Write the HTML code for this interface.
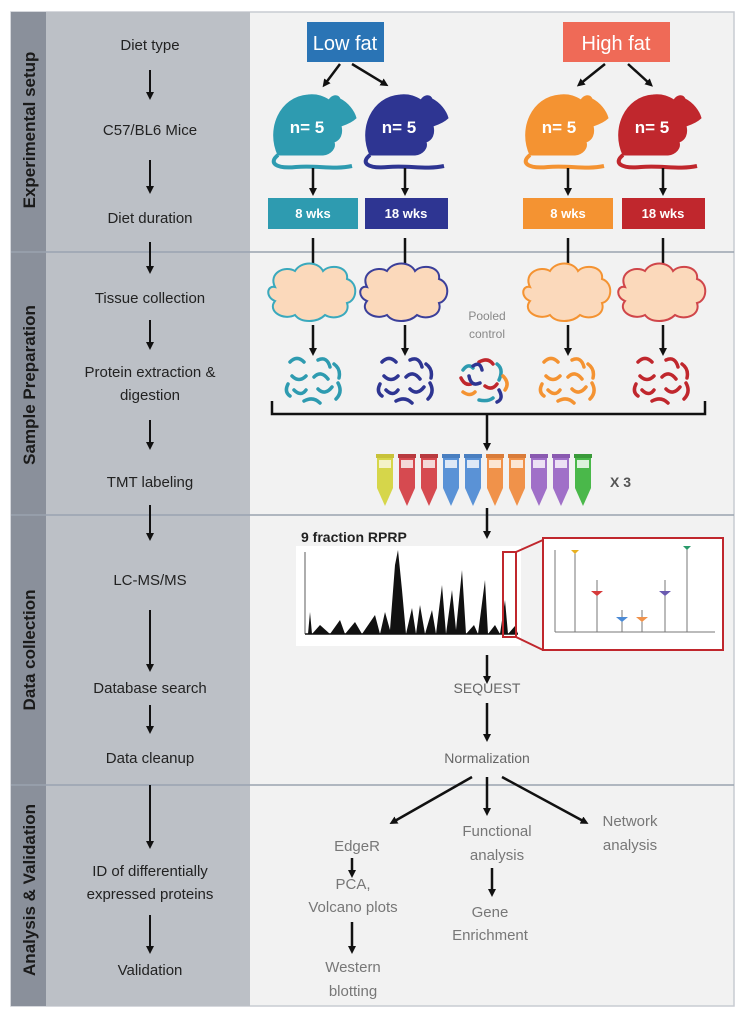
<!DOCTYPE html>
<html><head><style>
body{margin:0;background:#fff;}
svg{display:block;font-family:"Liberation Sans",sans-serif;}
</style></head><body>
<svg width="741" height="1028" viewBox="0 0 741 1028" xmlns="http://www.w3.org/2000/svg">
<defs>
<marker id="ah" markerWidth="8" markerHeight="8" refX="4" refY="4" orient="auto" markerUnits="userSpaceOnUse"><path d="M0,0 L8,4 L0,8 z" fill="#111"/></marker>
<g id="mouse"><path d="M-34,28 C-46,2 -32,-30 -4,-32 C6,-33 12,-30 17,-27 C20,-32 26,-33 28,-28 C36,-24 42,-16 44,-9 C40,-5 35,-3 29,-1 C31,7 28,13 22,15 C24,21 19,27 11,28 Z"/><path d="M-34,28 C-44,36 -36,42 -16,40 C4,38 22,43 40,39" fill="none" stroke-width="4"/></g>
<g id="cloud"><path d="M-38,-8 C-45,-22 -28,-30 -18,-24 C-12,-34 5,-34 10,-24 C18,-32 36,-28 34,-16 C46,-12 44,6 34,8 C38,20 22,26 12,20 C4,28 -12,28 -18,20 C-30,26 -46,16 -38,6 C-48,2 -46,-10 -38,-8 z" fill="#fbd9bb" stroke-width="2"/></g>
<g id="sq" fill="none" stroke-width="3.5" stroke-linecap="round"><path d="M-26,-18 q7,-7 14,0 M2,-20 q9,-4 12,7 M18,-16 q7,5 5,14 M-24,-4 q7,7 14,0 M-2,-3 q7,-7 14,2 M-22,10 q7,7 12,0 M2,9 q7,7 14,-2 M-12,21 q9,-5 16,2 M22,3 q5,9 -2,16 M-28,4 q-4,8 2,12"/></g>
</defs>
<rect x="11" y="12" width="723" height="994" fill="#f2f2f2" stroke="#c8ccd2" stroke-width="1.5"/>
<rect x="11" y="12" width="35" height="994" fill="#8a909b"/>
<rect x="46" y="12" width="204" height="994" fill="#bcc0c6"/>
<g stroke="#9aa3b0" stroke-width="1.5"><line x1="11" y1="252" x2="734" y2="252"/><line x1="11" y1="515" x2="734" y2="515"/><line x1="11" y1="785" x2="734" y2="785"/></g>
<g font-weight="bold" font-size="17" fill="#1a1a1a" text-anchor="middle">
<text transform="translate(35,130) rotate(-90)">Experimental setup</text>
<text transform="translate(35,385) rotate(-90)">Sample Preparation</text>
<text transform="translate(35,650) rotate(-90)">Data collection</text>
<text transform="translate(35,890) rotate(-90)">Analysis &amp; Validation</text>
</g>
<g font-size="15" fill="#222" text-anchor="middle">
<text x="150" y="50">Diet type</text>
<text x="150" y="135">C57/BL6 Mice</text>
<text x="150" y="223">Diet duration</text>
<text x="150" y="303">Tissue collection</text>
<text x="150" y="377">Protein extraction &amp;</text>
<text x="150" y="400">digestion</text>
<text x="150" y="487">TMT labeling</text>
<text x="150" y="585">LC-MS/MS</text>
<text x="150" y="693">Database search</text>
<text x="150" y="763">Data cleanup</text>
<text x="150" y="876">ID of differentially</text>
<text x="150" y="899">expressed proteins</text>
<text x="150" y="975">Validation</text>
</g>
<g stroke="#111" stroke-width="2" marker-end="url(#ah)">
<line x1="150" y1="70" x2="150" y2="96"/><line x1="150" y1="160" x2="150" y2="190"/><line x1="150" y1="242" x2="150" y2="270"/>
<line x1="150" y1="320" x2="150" y2="346"/><line x1="150" y1="420" x2="150" y2="446"/><line x1="150" y1="505" x2="150" y2="537"/>
<line x1="150" y1="610" x2="150" y2="668"/><line x1="150" y1="705" x2="150" y2="730"/><line x1="150" y1="785" x2="150" y2="845"/>
<line x1="150" y1="915" x2="150" y2="950"/>
</g>
<rect x="307" y="22" width="77" height="40" fill="#2a74b5"/><text x="345" y="50" font-size="20" fill="#fff" text-anchor="middle">Low fat</text>
<rect x="563" y="22" width="107" height="40" fill="#ef6a57"/><text x="616" y="50" font-size="20" fill="#fff" text-anchor="middle">High fat</text>
<g stroke="#111" stroke-width="2.5" marker-end="url(#ah)">
<line x1="340" y1="64" x2="325" y2="84"/><line x1="352" y1="64" x2="385" y2="84"/>
<line x1="605" y1="64" x2="580" y2="84"/><line x1="628" y1="64" x2="650" y2="84"/>
</g>
<g fill="#2e9bb0" stroke="#2e9bb0"><use href="#mouse" transform="translate(312,127)"/></g>
<g fill="#2e3592" stroke="#2e3592"><use href="#mouse" transform="translate(404,127)"/></g>
<g fill="#f49332" stroke="#f49332"><use href="#mouse" transform="translate(564,127)"/></g>
<g fill="#c0272d" stroke="#c0272d"><use href="#mouse" transform="translate(657,127)"/></g>
<g font-size="17" font-weight="bold" fill="#fff" text-anchor="middle">
<text x="307" y="133">n= 5</text><text x="399" y="133">n= 5</text><text x="559" y="133">n= 5</text><text x="652" y="133">n= 5</text></g>
<g stroke="#111" stroke-width="2.5" marker-end="url(#ah)">
<line x1="313" y1="168" x2="313" y2="192"/><line x1="405" y1="168" x2="405" y2="192"/><line x1="568" y1="168" x2="568" y2="192"/><line x1="663" y1="168" x2="663" y2="192"/>
</g>
<rect x="268" y="198" width="90" height="31" fill="#2e9bb0"/><rect x="365" y="198" width="83" height="31" fill="#2e3592"/>
<rect x="523" y="198" width="90" height="31" fill="#f49332"/><rect x="622" y="198" width="83" height="31" fill="#c0272d"/>
<g font-size="13" font-weight="bold" fill="#fff" text-anchor="middle"><text x="313" y="218">8 wks</text><text x="406" y="218">18 wks</text><text x="568" y="218">8 wks</text><text x="663" y="218">18 wks</text></g>
<g stroke="#111" stroke-width="2.5" marker-end="url(#ah)">
<line x1="313" y1="238" x2="313" y2="268"/><line x1="405" y1="238" x2="405" y2="268"/><line x1="568" y1="238" x2="568" y2="268"/><line x1="663" y1="238" x2="663" y2="268"/>
</g>
<use href="#cloud" transform="translate(313,295)" stroke="#3aa9bd"/>
<use href="#cloud" transform="translate(405,295)" stroke="#3b3f9a"/>
<use href="#cloud" transform="translate(568,295)" stroke="#f49332"/>
<use href="#cloud" transform="translate(663,295)" stroke="#d0464a"/>
<text x="487" y="320" font-size="12" fill="#888" text-anchor="middle">Pooled</text>
<text x="487" y="338" font-size="12" fill="#888" text-anchor="middle">control</text>
<g stroke="#111" stroke-width="2.5" marker-end="url(#ah)">
<line x1="313" y1="325" x2="313" y2="352"/><line x1="405" y1="325" x2="405" y2="352"/><line x1="568" y1="325" x2="568" y2="352"/><line x1="663" y1="325" x2="663" y2="352"/>
</g>
<use href="#sq" transform="translate(316,380)" stroke="#2e9bb0"/>
<use href="#sq" transform="translate(408,380)" stroke="#2e3592"/>
<g fill="none" stroke-width="3.5" stroke-linecap="round" transform="translate(487,380)"><path stroke="#c0272d" d="M-8,-18 q9,-5 14,2 M-2,6 q7,5 12,-2 M-26,-2 q4,8 10,6"/><path stroke="#2e9bb0" d="M10,-16 q7,5 2,16 M-24,-10 q5,-7 10,-2 M-8,20 q9,2 14,-2"/><path stroke="#2e3592" d="M-18,-4 q2,11 11,7 M12,10 q5,9 -2,12 M-14,-14 q7,-5 9,4"/><path stroke="#f49332" d="M16,-4 q7,7 2,14 M-24,12 q7,5 12,0"/></g>
<use href="#sq" transform="translate(570,380)" stroke="#f49332"/>
<use href="#sq" transform="translate(664,380)" stroke="#c0272d"/>
<path d="M272,401 V414 H705 V401" fill="none" stroke="#111" stroke-width="2.5"/>
<line x1="487" y1="414" x2="487" y2="447" stroke="#111" stroke-width="2.5" marker-end="url(#ah)"/>
<g stroke="none">
<g transform="translate(376,454)"><rect x="0" y="0" width="18" height="4" fill="#c8c23a"/><path d="M1,4 h16 v30 l-8,18 l-8,-18z" fill="#d6d64a"/><rect x="3" y="6" width="12" height="8" fill="#f4f2c8"/></g>
<g transform="translate(398,454)"><rect x="0" y="0" width="18" height="4" fill="#b83a3f"/><path d="M1,4 h16 v30 l-8,18 l-8,-18z" fill="#d64a50"/><rect x="3" y="6" width="12" height="8" fill="#f4d8d8"/></g>
<g transform="translate(420,454)"><rect x="0" y="0" width="18" height="4" fill="#b83a3f"/><path d="M1,4 h16 v30 l-8,18 l-8,-18z" fill="#d64a50"/><rect x="3" y="6" width="12" height="8" fill="#f4d8d8"/></g>
<g transform="translate(442,454)"><rect x="0" y="0" width="18" height="4" fill="#4a7fc0"/><path d="M1,4 h16 v30 l-8,18 l-8,-18z" fill="#5a92d6"/><rect x="3" y="6" width="12" height="8" fill="#dde8f6"/></g>
<g transform="translate(464,454)"><rect x="0" y="0" width="18" height="4" fill="#4a7fc0"/><path d="M1,4 h16 v30 l-8,18 l-8,-18z" fill="#5a92d6"/><rect x="3" y="6" width="12" height="8" fill="#dde8f6"/></g>
<g transform="translate(486,454)"><rect x="0" y="0" width="18" height="4" fill="#d97c3a"/><path d="M1,4 h16 v30 l-8,18 l-8,-18z" fill="#f0924a"/><rect x="3" y="6" width="12" height="8" fill="#fbe6d4"/></g>
<g transform="translate(508,454)"><rect x="0" y="0" width="18" height="4" fill="#d97c3a"/><path d="M1,4 h16 v30 l-8,18 l-8,-18z" fill="#f0924a"/><rect x="3" y="6" width="12" height="8" fill="#fbe6d4"/></g>
<g transform="translate(530,454)"><rect x="0" y="0" width="18" height="4" fill="#8a5ab0"/><path d="M1,4 h16 v30 l-8,18 l-8,-18z" fill="#a070c8"/><rect x="3" y="6" width="12" height="8" fill="#ece0f4"/></g>
<g transform="translate(552,454)"><rect x="0" y="0" width="18" height="4" fill="#8a5ab0"/><path d="M1,4 h16 v30 l-8,18 l-8,-18z" fill="#a070c8"/><rect x="3" y="6" width="12" height="8" fill="#ece0f4"/></g>
<g transform="translate(574,454)"><rect x="0" y="0" width="18" height="4" fill="#3a9a3a"/><path d="M1,4 h16 v30 l-8,18 l-8,-18z" fill="#4ab84a"/><rect x="3" y="6" width="12" height="8" fill="#dcf2dc"/></g>
</g>
<text x="610" y="487" font-size="14" font-weight="bold" fill="#555">X 3</text>
<line x1="487" y1="508" x2="487" y2="535" stroke="#111" stroke-width="2.5" marker-end="url(#ah)"/>
<text x="301" y="542" font-size="14" font-weight="bold" fill="#222">9 fraction RPRP</text>
<rect x="296" y="546" width="225" height="100" fill="#fff"/>
<path d="M308,634 L310,612 L312,634 L320,625 L330,634 L340,620 L345,634 L355,622 L362,634 L375,615 L380,634 L385,612 L390,630 L395,565 L398,550 L402,590 L406,634 L412,608 L416,634 L420,605 L425,634 L432,610 L436,634 L442,585 L446,634 L452,590 L456,630 L462,570 L466,634 L474,625 L478,634 L485,580 L488,634 L495,625 L500,634 L505,600 L508,634 L515,626 L518,634 Z" fill="#111"/>
<line x1="305" y1="634" x2="518" y2="634" stroke="#111" stroke-width="1.5"/>
<line x1="305" y1="552" x2="305" y2="634" stroke="#333" stroke-width="0.8"/>
<rect x="503" y="552" width="13" height="85" fill="none" stroke="#c0272d" stroke-width="2"/>
<path d="M516,552 L543,540 M516,637 L543,650" stroke="#c0272d" stroke-width="2"/>
<rect x="543" y="538" width="180" height="112" fill="#fff" stroke="#c0272d" stroke-width="2"/>
<g stroke="#777" stroke-width="1"><line x1="555" y1="632" x2="715" y2="632"/><line x1="555" y1="550" x2="555" y2="632"/>
<line x1="575" y1="550" x2="575" y2="632"/><line x1="597" y1="580" x2="597" y2="632"/><line x1="622" y1="610" x2="622" y2="632"/><line x1="642" y1="610" x2="642" y2="632"/><line x1="665" y1="580" x2="665" y2="632"/><line x1="687" y1="548" x2="687" y2="632"/></g>
<path d="M591,591 h12 l-6,5z" fill="#d63a3a"/><path d="M616,617 h12 l-6,5z" fill="#4a8ad6"/><path d="M636,617 h12 l-6,5z" fill="#f0924a"/><path d="M659,591 h12 l-6,5z" fill="#6a5ab0"/>
<path d="M571,550 h8 l-4,4z" fill="#e8b020"/><path d="M683,546 h8 l-4,4z" fill="#2a9a6a"/>
<line x1="487" y1="655" x2="487" y2="680" stroke="#111" stroke-width="2.5" marker-end="url(#ah)"/>
<text x="487" y="693" font-size="14" fill="#666" text-anchor="middle">SEQUEST</text>
<line x1="487" y1="703" x2="487" y2="738" stroke="#111" stroke-width="2.5" marker-end="url(#ah)"/>
<text x="487" y="763" font-size="14" fill="#666" text-anchor="middle">Normalization</text>
<g stroke="#111" stroke-width="2.5" marker-end="url(#ah)">
<line x1="472" y1="777" x2="393" y2="822"/><line x1="487" y1="777" x2="487" y2="812"/><line x1="502" y1="777" x2="585" y2="822"/>
</g>
<g font-size="15" fill="#777" text-anchor="middle">
<text x="357" y="851">EdgeR</text>
<text x="497" y="836">Functional</text><text x="497" y="860">analysis</text>
<text x="630" y="826">Network</text><text x="630" y="850">analysis</text>
<text x="353" y="889">PCA,</text>
<text x="353" y="912">Volcano plots</text>
<text x="353" y="972">Western</text><text x="353" y="996">blotting</text>
<text x="490" y="917">Gene</text><text x="490" y="940">Enrichment</text>
</g>
<g stroke="#111" stroke-width="2.5" marker-end="url(#ah)">
<line x1="352" y1="858" x2="352" y2="874"/>
<line x1="352" y1="922" x2="352" y2="950"/>
<line x1="492" y1="868" x2="492" y2="893"/>
</g>
</svg>
</body></html>
